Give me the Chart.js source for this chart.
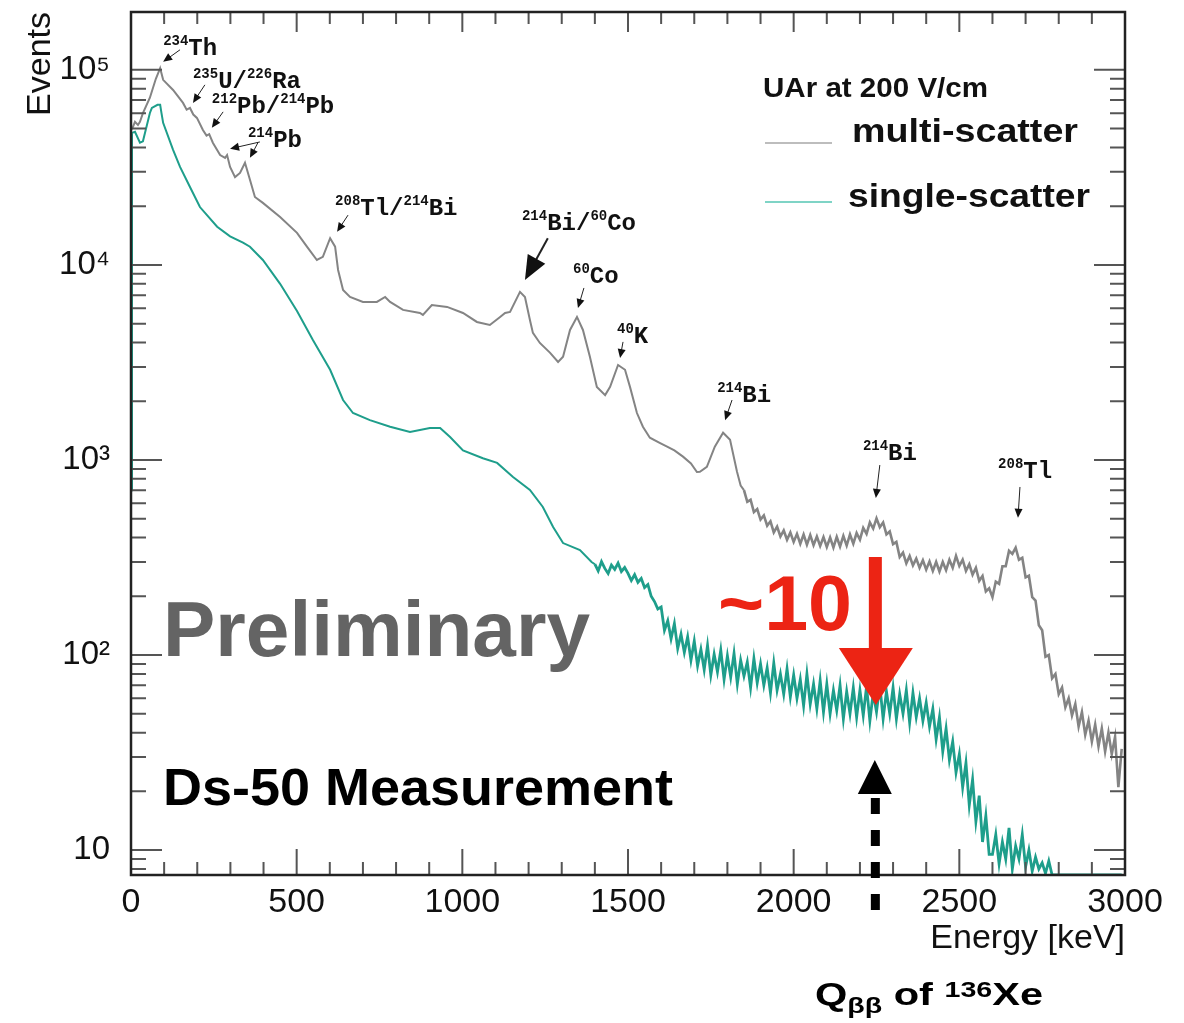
<!DOCTYPE html>
<html><head><meta charset="utf-8">
<script src="https://cdn.jsdelivr.net/npm/chart.js@4/dist/chart.umd.min.js"></script>
<style>html,body{margin:0;padding:0;background:#fff;}#wrap{position:relative;width:1184px;height:1023px;}</style>
</head><body><div id="wrap"><canvas id="c" width="1184" height="1023"></canvas></div>
<script>
// ---------------- data ----------------
const multiEnergy = [0,6,12,21,27,36,57,75,88,97,127,157,168,178,188,199,217,228,236,247,269,284,290,299,314,329,344,359,374,398,450,501,531,561,579,601,616,625,640,661,700,742,767,782,821,872,881,908,954,1002,1044,1083,1114,1129,1144,1174,1189,1204,1213,1234,1265,1289,1304,1325,1346,1364,1385,1406,1431,1446,1470,1491,1506,1527,1545,1566,1597,1618,1640,1666,1690,1708,1717,1738,1762,1787,1808,1829,1840];
const multiEvents = [49200,51000,54100,52200,54100,60000,72000,90000,102000,88900,78900,67700,62500,63800,59000,56700,49200,46000,46800,42300,36600,35400,36600,31800,28200,29600,33400,27300,22300,20800,17600,14600,12400,10600,11000,13700,12400,9420,7440,6850,6460,6460,6850,6460,5880,5670,5540,6230,6090,5670,5100,4920,5410,5670,5740,7270,6850,5220,4480,3980,3540,3180,3380,4640,5410,4640,3380,2370,2150,2370,3070,2900,2370,1740,1480,1300,1220,1170,1120,1040,960,868,870,921,1170,1380,1270,870,740];
// noisy high-energy part of multi-scatter, 10 keV bins from 1850 keV
const multiTailStart = 1850;
const multiTailEvents = [
 700,610,625,540,560,495,520,460,485,425,
 455,405,435,390,425,380,418,372,415,368,
 412,366,405,362,402,358,400,356,403,360,
 408,364,415,372,422,390,448,418,478,445,
 502,452,478,415,430,370,380,318,335,295,
 322,288,312,280,306,274,302,270,300,268,
 300,272,308,280,322,286,308,270,292,258,
 280,240,254,212,220,198,238,232,285,285,
 342,330,355,308,315,250,255,198,190,142,
 134,98,100,76,80,63,68,54,60,49,
 56,43,51,39,46,36,44,34,42,32,
 40,31,38,21,33];
const singleEnergy = [0,3,12,27,36,57,63,80,88,92,97,127,148,178,208,260,299,338,359,398,450,501,549,601,640,670,721,782,842,902,933,963,1002,1062,1105,1153,1204,1243,1274,1304,1355,1390];
const singleEvents = [700,47500,48100,42300,43000,60100,63800,66200,66200,60000,53500,38900,31800,25100,19800,15700,14000,13000,12400,10600,8000,5800,4120,2900,2030,1740,1600,1480,1390,1460,1460,1310,1120,1020,966,818,702,574,453,375,345,300];
// noisy high-energy part of single-scatter, 10 keV bins from 1400 keV (0 = empty bin)
const singleTailStart = 1400;
const singleTailEvents = [
 292,270,301,278,262,289,275,296,268,281,
 262,241,258,236,247,222,230,200,188,172,
 176,134,150,121,145,108,128,103,124,94,
 118,88,107,84,112,79,101,82,106,75,
 99,77,102,71,94,78,92,68,96,72,
 90,70,86,64,91,66,80,63,85,61,
 79,60,75,55,80,56,71,53,74,51,
 71,50,66,52,70,47,65,50,68,48,
 66,49,69,46,64,51,70,47,65,50,
 68,47,63,50,66,45,64,48,60,46,
 57,43,53,37,48,32,42,29,36,25,
 31,21,28,17,23,14,19,11,15,9.5,
 9.5,12,8.5,11,9,13,8,10.5,9,12,
 8.2,10,7.8,9.2,8,8.6,7.6,8.8,0,0,
 0,0,0,0,0,0,0,0,0,0,
 0,0,0,0,0,0,0,0,0,0];
const tailBinWidth = 10;
const xTickValues = [0,500,1000,1500,2000,2500,3000];
const yTickValues = [10,100,1000,10000,100000];
const yTickLabels = ['10','10\u00B2','10\u00B3','10\u2074','10\u2075'];
const seriesNames = ['multi-scatter','single-scatter'];
const legendTitle = 'UAr at 200 V/cm';
const qEnergy = 2245;
// peak labels: label anchor (energy, events), arrows [tailE, tailV, tipE, tipV]
const peakLabels = [
 {parts:[['s','234'],['t','Th']], e:97, v:119400, arrows:[[148,126800,97,109900]]},
 {parts:[['s','235'],['t','U/'],['s','226'],['t','Ra']], e:187, v:80900, arrows:[[223,83800,187,67700]]},
 {parts:[['s','212'],['t','Pb/'],['s','214'],['t','Pb']], e:244, v:60100, arrows:[[278,60900,244,50500]]},
 {parts:[['s','214'],['t','Pb']], e:353, v:40300, arrows:[[389,42700,299,39400],[383,42300,359,35400]]},
 {parts:[['s','208'],['t','Tl/'],['s','214'],['t','Bi']], e:616, v:18000, arrows:[[655,18000,622,14800]]},
 {parts:[['s','214'],['t','Bi/'],['s','60'],['t','Co']], e:1180, v:15100, arrows:[[1258,13700,1189,8380]], big:true},
 {parts:[['s','60'],['t','Co']], e:1334, v:8090, arrows:[[1367,7620,1349,6010]]},
 {parts:[['s','40'],['t','K']], e:1467, v:3980, arrows:[[1485,4030,1476,3330]]},
 {parts:[['s','214'],['t','Bi']], e:1769, v:1980, arrows:[[1814,2030,1793,1600]]},
 {parts:[['s','214'],['t','Bi']], e:2209, v:1000, arrows:[[2260,942,2248,638]]},
 {parts:[['s','208'],['t','Tl']], e:2617, v:809, arrows:[[2683,727,2677,505]]}
];

// ---------------- build ----------------
const X_MIN = 0, X_MAX = 3000, Y_MIN = 7.45, Y_MAX = 1.98e5;
const SANS = '"Liberation Sans", Arial, Helvetica, sans-serif';
const MONO = '"Liberation Mono", "DejaVu Sans Mono", monospace';
Chart.defaults.font.family = SANS;
const clampV = v => (v > 0 ? v : Y_MIN);
const multiData = multiEnergy.map((e,i)=>({x:e, y:clampV(multiEvents[i])}))
  .concat(multiTailEvents.map((v,i)=>({x:multiTailStart+i*tailBinWidth, y:clampV(v)})));
const singleData = singleEnergy.map((e,i)=>({x:e, y:clampV(singleEvents[i])}))
  .concat(singleTailEvents.map((v,i)=>({x:singleTailStart+i*tailBinWidth, y:clampV(v)})));

function drawArrow(ctx, x1, y1, x2, y2, hl, hw, lw){
  const a = Math.atan2(y2-y1, x2-x1), c = Math.cos(a), s = Math.sin(a);
  ctx.lineWidth = lw;
  ctx.beginPath(); ctx.moveTo(x1,y1); ctx.lineTo(x2-hl*0.7*c, y2-hl*0.7*s); ctx.stroke();
  ctx.beginPath(); ctx.moveTo(x2,y2);
  ctx.lineTo(x2-hl*c+hw/2*s, y2-hl*s-hw/2*c);
  ctx.lineTo(x2-hl*c-hw/2*s, y2-hl*s+hw/2*c);
  ctx.closePath(); ctx.fill();
}
function partsWidth(ctx, parts, big, small, fam){
  let w = 0;
  for (const [k,t] of parts){ ctx.font = 'bold '+(k==='t'?big:small)+'px '+fam; w += ctx.measureText(t).width; }
  return w;
}
function drawParts(ctx, x, y, parts, big, small, raise, fam, targetW){
  ctx.save();
  ctx.translate(x, y);
  if (targetW){ const w = partsWidth(ctx, parts, big, small, fam); ctx.scale(targetW/w, 1); }
  let cx = 0;
  for (const [k, t] of parts){
    if (k === 's'){ ctx.font = 'bold '+small+'px '+fam; ctx.fillText(t, cx, -raise); }
    else if (k === 'b'){ ctx.font = 'bold '+small+'px '+fam; ctx.fillText(t, cx, raise); }
    else { ctx.font = 'bold '+big+'px '+fam; ctx.fillText(t, cx, 0); }
    cx += ctx.measureText(t).width;
  }
  ctx.restore();
}
function drawFitted(ctx, text, x, y, size, targetW){
  drawParts(ctx, x, y, [['t', text]], size, size, 0, SANS, targetW);
}

const decorPlugin = {
  id:'decor',
  afterDatasetsDraw(chart){
    const ctx = chart.ctx, a = chart.chartArea, xs = chart.scales.x, ys = chart.scales.y;
    ctx.save();
    // ticks (inside, ROOT style)
    ctx.strokeStyle = '#555'; ctx.lineWidth = 2;
    ctx.beginPath();
    for (let e = 0; e <= X_MAX; e += 100){
      const px = xs.getPixelForValue(e);
      const major = e % 500 === 0;
      const lb = major ? 26 : 13, lt = major ? 20 : 12;
      ctx.moveTo(px, a.bottom); ctx.lineTo(px, a.bottom-lb);
      ctx.moveTo(px, a.top); ctx.lineTo(px, a.top+lt);
    }
    for (let d = 1; d <= 100000; d *= 10){
      for (let m = 1; m <= 9; m++){
        const v = d*m; if (v < Y_MIN || v > Y_MAX) continue;
        const py = ys.getPixelForValue(v);
        const L = m === 1 ? 31 : 15;
        ctx.moveTo(a.left, py); ctx.lineTo(a.left+L, py);
        ctx.moveTo(a.right, py); ctx.lineTo(a.right-L, py);
      }
    }
    ctx.stroke();
    // frame
    ctx.strokeStyle = '#222'; ctx.lineWidth = 2.5;
    ctx.strokeRect(a.left, a.top, a.right-a.left, a.bottom-a.top);

    // peak labels
    ctx.fillStyle = '#111'; ctx.strokeStyle = '#222'; ctx.textBaseline = 'alphabetic'; ctx.textAlign = 'left';
    for (const p of peakLabels){
      drawParts(ctx, xs.getPixelForValue(p.e), ys.getPixelForValue(p.v), p.parts, 24, 14, 10, MONO);
      for (const ar of p.arrows){
        const x1 = xs.getPixelForValue(ar[0]), y1 = ys.getPixelForValue(ar[1]);
        const x2 = xs.getPixelForValue(ar[2]), y2 = ys.getPixelForValue(ar[3]);
        if (p.big) drawArrow(ctx, x1,y1,x2,y2, 24, 20, 2);
        else drawArrow(ctx, x1,y1,x2,y2, 9, 8, 1);
      }
    }

    // legend
    ctx.fillStyle = '#111';
    drawFitted(ctx, legendTitle, 763, 97, 28, 225);
    ctx.lineWidth = 2;
    ctx.strokeStyle = '#bdbdbd'; ctx.beginPath(); ctx.moveTo(765,143); ctx.lineTo(832,143); ctx.stroke();
    ctx.strokeStyle = '#7fd4c6'; ctx.beginPath(); ctx.moveTo(765,202); ctx.lineTo(832,202); ctx.stroke();
    drawFitted(ctx, seriesNames[0], 852, 142, 34, 226);
    drawFitted(ctx, seriesNames[1], 848, 207, 34, 242);

    // big texts
    ctx.fillStyle = '#646464'; drawFitted(ctx, 'Preliminary', 163, 656, 78, 427);
    ctx.fillStyle = '#000'; drawFitted(ctx, 'Ds-50 Measurement', 163, 805, 52, 510);
    ctx.fillStyle = '#ec2414'; drawFitted(ctx, '~10', 718, 630, 77, 134);

    // red arrow
    const qx = xs.getPixelForValue(qEnergy);
    ctx.fillStyle = '#ec2414';
    ctx.fillRect(qx-6, 557, 13, 95);
    ctx.beginPath(); ctx.moveTo(qx-36,648); ctx.lineTo(qx+38,648); ctx.lineTo(qx+1,705); ctx.closePath(); ctx.fill();

    // black dashed arrow
    ctx.fillStyle = '#000';
    ctx.beginPath(); ctx.moveTo(qx,760); ctx.lineTo(qx+17,794); ctx.lineTo(qx-17,794); ctx.closePath(); ctx.fill();
    for (let y = 798; y < 912; y += 32){ ctx.fillRect(qx-4, y, 9, Math.min(16, 912-y)); }

    // Q label
    drawParts(ctx, 815, 1005, [['t','Q'],['b','\u03B2\u03B2'],['t',' of '],['s','136'],['t','Xe']], 32, 22, 8, SANS, 228);
    ctx.restore();
  }
};

const thick = (lim, w) => (c) => (c.p0.parsed.x >= lim ? w : 2);
new Chart(document.getElementById('c').getContext('2d'), {
  type:'line',
  data:{datasets:[
    {label:seriesNames[0], data:multiData, borderColor:'#848484', borderWidth:2, pointRadius:0, tension:0, fill:false, segment:{borderWidth:thick(1850, 2.6)}},
    {label:seriesNames[1], data:singleData, borderColor:'#1e9e8b', borderWidth:2, pointRadius:0, tension:0, fill:false, segment:{borderWidth:thick(1400, 2.8)}}
  ]},
  options:{
    responsive:false, animation:false, devicePixelRatio:1,
    layout:{padding:{top:12, right:59, left:0, bottom:0}},
    plugins:{legend:{display:false}, tooltip:{enabled:false}},
    scales:{
      x:{type:'linear', min:X_MIN, max:X_MAX, grid:{display:false}, border:{display:false},
        afterBuildTicks:s=>{ s.ticks = xTickValues.map(v=>({value:v})); },
        afterFit:s=>{ s.height = 148; s.paddingLeft = 0; s.paddingRight = 0; },
        ticks:{font:{size:34}, color:'#111', padding:-1, maxRotation:0, autoSkip:false, callback:v=>String(v)},
        title:{display:true, text:'Energy [keV]', align:'end', color:'#111', font:{size:34}, padding:{top:0, bottom:64}}},
      y:{type:'logarithmic', min:Y_MIN, max:Y_MAX, grid:{display:false}, border:{display:false},
        afterBuildTicks:s=>{ s.ticks = yTickValues.map(v=>({value:v})); },
        afterFit:s=>{ s.width = 131; s.paddingTop = 0; s.paddingBottom = 0; },
        ticks:{font:{size:33}, color:'#111', padding:13, autoSkip:false,
          callback:v=>{ const i = yTickValues.indexOf(v); return i >= 0 ? yTickLabels[i] : ''; }},
        title:{display:true, text:'Events', align:'end', color:'#111', font:{size:34}, padding:{top:20, bottom:0}}}
    }
  },
  plugins:[decorPlugin]
});
</script></body></html>
